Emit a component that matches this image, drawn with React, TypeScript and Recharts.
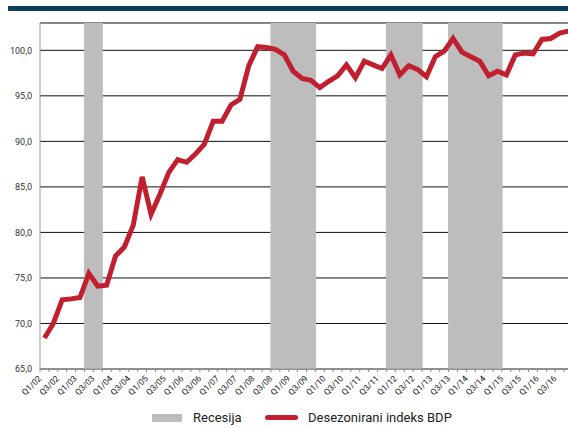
import { ComposedChart, Bar, Line, XAxis, YAxis, CartesianGrid } from 'recharts';

// quarterly labels, Q1/02 .. Q4/16
const quarters = [
  'Q1/02', 'Q2/02', 'Q3/02', 'Q4/02', 'Q1/03', 'Q2/03', 'Q3/03', 'Q4/03',
  'Q1/04', 'Q2/04', 'Q3/04', 'Q4/04', 'Q1/05', 'Q2/05', 'Q3/05', 'Q4/05',
  'Q1/06', 'Q2/06', 'Q3/06', 'Q4/06', 'Q1/07', 'Q2/07', 'Q3/07', 'Q4/07',
  'Q1/08', 'Q2/08', 'Q3/08', 'Q4/08', 'Q1/09', 'Q2/09', 'Q3/09', 'Q4/09',
  'Q1/10', 'Q2/10', 'Q3/10', 'Q4/10', 'Q1/11', 'Q2/11', 'Q3/11', 'Q4/11',
  'Q1/12', 'Q2/12', 'Q3/12', 'Q4/12', 'Q1/13', 'Q2/13', 'Q3/13', 'Q4/13',
  'Q1/14', 'Q2/14', 'Q3/14', 'Q4/14', 'Q1/15', 'Q2/15', 'Q3/15', 'Q4/15',
  'Q1/16', 'Q2/16', 'Q3/16', 'Q4/16',
];

// seasonally adjusted GDP index
const gdpIndex = [
  68.4, 70.0, 72.6, 72.7, 72.85, 75.5, 74.1, 74.2,
  77.4, 78.4, 80.8, 86.1, 82.0, 84.2, 86.6, 88.0,
  87.7, 88.6, 89.7, 92.2, 92.2, 94.0, 94.6, 98.3,
  100.4, 100.3, 100.1, 99.5, 97.7, 96.9, 96.7, 95.9,
  96.6, 97.2, 98.4, 97.0, 98.8, 98.4, 98.0, 99.5,
  97.3, 98.3, 97.9, 97.1, 99.3, 99.9, 101.3, 99.8,
  99.3, 98.8, 97.2, 97.7, 97.3, 99.5, 99.7, 99.6,
  101.2, 101.3, 101.9, 102.1,
];

// quarters shaded as recession
const recessionQuarters = [
  'Q2/03', 'Q3/03',
  'Q3/08', 'Q4/08', 'Q1/09', 'Q2/09', 'Q3/09',
  'Q4/11', 'Q1/12', 'Q2/12', 'Q3/12',
  'Q3/13', 'Q4/13', 'Q1/14', 'Q2/14', 'Q3/14', 'Q4/14',
];

const yDomain = [65, 103];
const yTicks = [65, 70, 75, 80, 85, 90, 95, 100];
const seriesNames = ['Recesija', 'Desezonirani indeks BDP'];

const data = quarters.map((q, i) => ({
  q,
  gdp: gdpIndex[i],
  rec: recessionQuarters.includes(q) ? yDomain[1] : null,
}));

const CHART_W = 574;
const CHART_H = 409;
const Y_AXIS_W = 40;
const MARGIN = { top: 23, right: 1, left: 0, bottom: 0 };
const BAND = (CHART_W - MARGIN.left - MARGIN.right - Y_AXIS_W) / quarters.length;

const RED = '#c11f2f';
const GREY = '#bdbdbd';
const FONT = 'Roboto, "Noto Sans", sans-serif';

// tick mark on every quarter boundary, label on every other quarter
const QuarterTick = (props: any) => {
  const { x, y, payload, index } = props;
  const left = x - BAND / 2;
  return (
    <g>
      <line x1={left} y1={y} x2={left} y2={y + 3} stroke="#888" strokeWidth={1} />
      {index % 2 === 0 && (
        <text
          x={x - 2.5}
          y={y + 10}
          textAnchor="end"
          fontSize={8.5}
          fill="#222"
          fontFamily={FONT}
          transform={`rotate(-45 ${x - 2.5} ${y + 10})`}
        >
          {payload.value}
        </text>
      )}
    </g>
  );
};

export default function App() {
  return (
    <div
      style={{
        position: 'absolute',
        left: 0,
        top: 0,
        width: 568,
        height: 428,
        overflow: 'hidden',
        background: '#fff',
        fontFamily: FONT,
      }}
    >
      <div style={{ position: 'absolute', left: 8, top: 6, width: 560, height: 5, background: '#0b3e5f' }} />
      <div style={{ position: 'absolute', left: 0, top: 0 }}>
        <ComposedChart width={CHART_W} height={CHART_H} data={data} margin={MARGIN} barCategoryGap={0} barGap={0}>
          <CartesianGrid vertical={false} stroke="#111" strokeWidth={1} />
          <XAxis
            dataKey="q"
            interval={0}
            height={40}
            tickSize={0}
            tickMargin={0}
            tickLine={false}
            axisLine={{ stroke: '#999' }}
            tick={<QuarterTick />}
          />
          <YAxis
            width={Y_AXIS_W}
            domain={yDomain}
            ticks={yTicks}
            allowDataOverflow
            tickLine={false}
            axisLine={{ stroke: '#999' }}
            tick={{ fontSize: 9, fill: '#333', fontFamily: FONT }}
            tickFormatter={(v: number) => v.toFixed(1).replace('.', ',')}
          />
          <Bar
            dataKey="rec"
            name={seriesNames[0]}
            fill={GREY}
            stroke={GREY}
            strokeWidth={1}
            isAnimationActive={false}
          />
          <Line
            type="linear"
            dataKey="gdp"
            name={seriesNames[1]}
            stroke={RED}
            strokeWidth={5}
            dot={false}
            activeDot={false}
            isAnimationActive={false}
          />
        </ComposedChart>
      </div>
      {/* legend */}
      <div style={{ position: 'absolute', left: 152, top: 414, width: 30, height: 8, background: GREY }} />
      <div style={{ position: 'absolute', left: 193, top: 409, fontSize: 13, lineHeight: '17px', color: '#222' }}>
        {seriesNames[0]}
      </div>
      <div style={{ position: 'absolute', left: 265, top: 415, width: 33, height: 5, borderRadius: 3, background: RED }} />
      <div style={{ position: 'absolute', left: 308, top: 409, fontSize: 13, lineHeight: '17px', color: '#222' }}>
        {seriesNames[1]}
      </div>
    </div>
  );
}
